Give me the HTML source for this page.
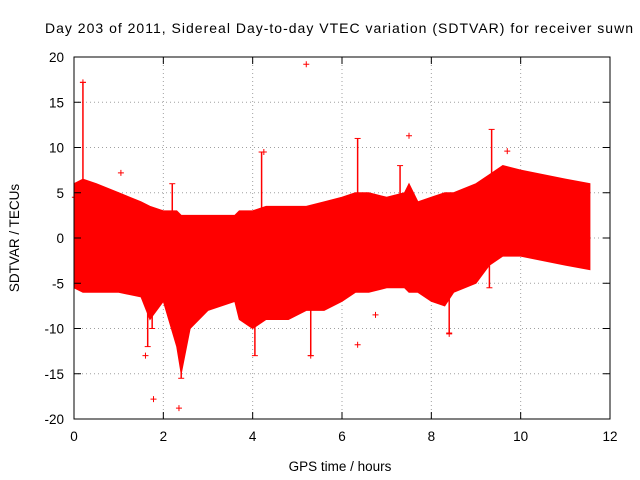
<!DOCTYPE html>
<html><head><meta charset="utf-8"><style>
body{margin:0;background:#fff;}
svg{display:block;font-family:"Liberation Sans",sans-serif;}
</style></head><body>
<svg id="chart" width="640" height="480" viewBox="0 0 640 480" xmlns="http://www.w3.org/2000/svg">
<rect width="640" height="480" fill="#fff"/>
<text x="45" y="33" font-size="14" textLength="588" lengthAdjust="spacing" fill="#000">Day 203 of 2011, Sidereal Day-to-day VTEC variation (SDTVAR) for receiver suwn</text>
<g id="grid"></g>
<g id="data"></g>
<rect x="74" y="57" width="536" height="362" fill="none" stroke="#000" stroke-width="1"/>
<g id="ticks"></g>
<text x="340" y="471" font-size="13.5" text-anchor="middle">GPS time / hours</text>
<text transform="translate(19,238) rotate(-90)" font-size="13.5" text-anchor="middle">SDTVAR / TECUs</text>
</svg>
<script>
const xTicks=[0,2,4,6,8,10,12];
const yTicks=[20,15,10,5,0,-5,-10,-15,-20];
const times=[0,0.2,0.5,1.0,1.5,1.7,2.0,2.3,2.4,2.6,3.0,3.6,3.7,4.0,4.3,4.8,5.2,5.6,6.0,6.3,6.6,7.0,7.4,7.5,7.7,8.0,8.3,8.5,9.0,9.3,9.6,10,10.5,11,11.55];
const upper=[6,6.5,6,5,4,3.5,3,3,2.5,2.5,2.5,2.5,3,3,3.5,3.5,3.5,4,4.5,5,5,4.5,5,6,4,4.5,5,5,6,7,8,7.5,7,6.5,6];
const lower=[-5.5,-6,-6,-6,-6.5,-9,-7,-12,-15,-10,-8,-7,-9,-10,-9,-9,-8,-8,-7,-6,-6,-5.5,-5.5,-6,-6,-7,-7.5,-6,-5,-3,-2,-2,-2.5,-3,-3.5];
const spikeTimes=[0.2,2.2,4.2,6.35,7.3,9.35,4.05,5.3,2.4,8.4,9.3,1.65,1.75];
const spikeEnds=[17.2,6,9.5,11,8,12,-13,-13,-15.5,-10.5,-5.5,-12,-10];
const outT=[0.2,1.05,1.6,1.78,2.35,5.2,6.35,6.75,7.5,9.7,5.3,8.4,4.25,0.02];
const outV=[17.2,7.2,-13,-17.8,-18.8,19.2,-11.8,-8.5,11.3,9.6,-13,-10.6,9.5,4.5];
const NS="http://www.w3.org/2000/svg";
const X=t=>74+t*(536/12);
const Y=v=>238-v*(362/40);
function mk(tag,attrs,parent){const e=document.createElementNS(NS,tag);for(const k in attrs)e.setAttribute(k,attrs[k]);parent.appendChild(e);return e;}
const grid=document.getElementById('grid'),ticks=document.getElementById('ticks'),data=document.getElementById('data');
xTicks.forEach(t=>{
 if(t>0&&t<12){const g=mk('line',{x1:X(t),x2:X(t),y1:57,y2:419,stroke:'#a0a0a0','stroke-dasharray':'1,3'},grid);
 
 }
 mk('line',{x1:X(t),x2:X(t),y1:419,y2:412,stroke:'#000'},ticks);
 mk('line',{x1:X(t),x2:X(t),y1:57,y2:64,stroke:'#000'},ticks);
 const l=mk('text',{x:X(t),y:441,'font-size':13.5,'text-anchor':'middle'},ticks);l.textContent=t;
 
 
});
yTicks.forEach(v=>{
 if(v<20&&v>-20){const g=mk('line',{x1:74,x2:610,y1:Y(v),y2:Y(v),stroke:'#a0a0a0','stroke-dasharray':'1,3'},grid);
 
 }
 mk('line',{x1:74,x2:81,y1:Y(v),y2:Y(v),stroke:'#000'},ticks);
 mk('line',{x1:610,x2:603,y1:Y(v),y2:Y(v),stroke:'#000'},ticks);
 const l=mk('text',{x:64,y:Y(v)+5,'font-size':13.5,'text-anchor':'end'},ticks);l.textContent=v;
 
 
});
let d='M'+times.map((t,i)=>X(t)+','+Y(upper[i])).join(' L');
for(let i=times.length-1;i>=0;i--)d+=' L'+X(times[i])+','+Y(lower[i]);
const band=mk('path',{d:d+'Z',fill:'#ff0000',stroke:'#ff0000','stroke-width':1},data);


spikeTimes.forEach((t,i)=>{
 const v=spikeEnds[i];
 const s=mk('line',{x1:X(t),x2:X(t),y1:Y(v),y2:Y(v>0?2:-3),stroke:'#ff0000','stroke-width':1.5},data);
 
 
 mk('line',{x1:X(t)-3,x2:X(t)+3,y1:Y(v),y2:Y(v),stroke:'#ff0000'},data);
});
outT.forEach((t,i)=>{
 const x=X(t),y=Y(outV[i]);
 const p=mk('path',{d:`M${x-3},${y}H${x+3}M${x},${y-3}V${y+3}`,stroke:'#ff0000','stroke-width':1},data);
 
 
});
</script>
</body></html>
